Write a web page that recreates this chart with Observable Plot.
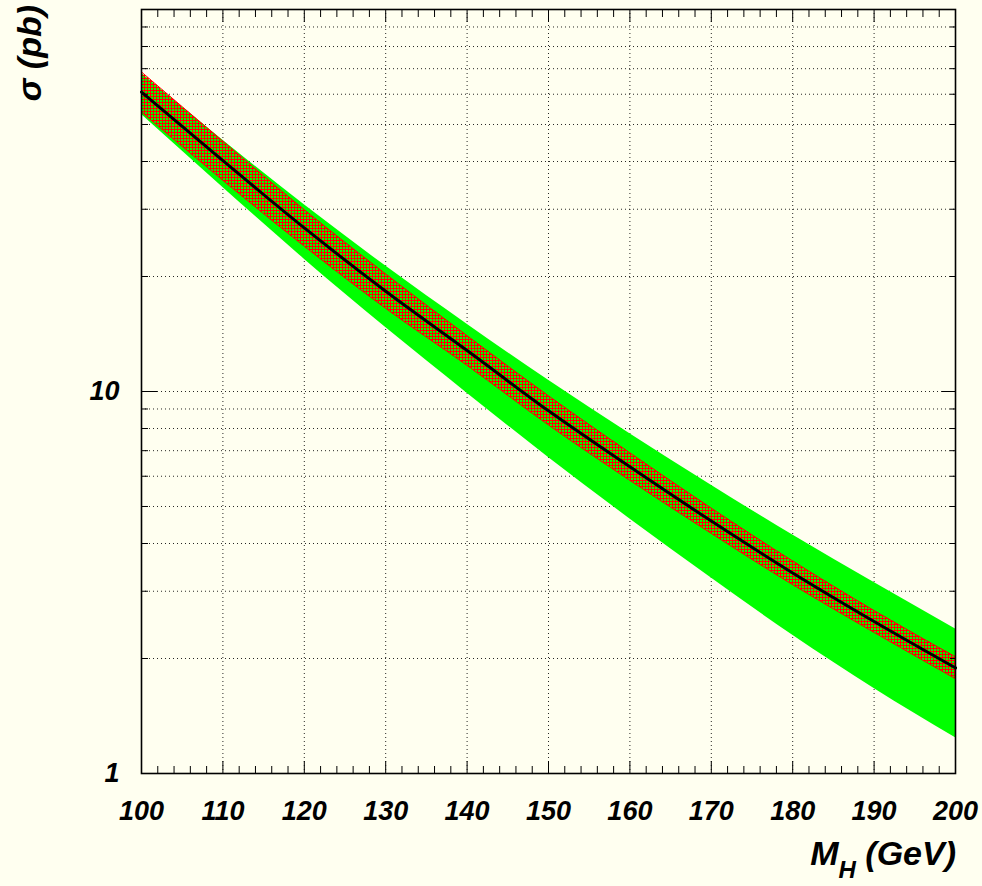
<!DOCTYPE html>
<html>
<head>
<meta charset="utf-8">
<script src="https://cdn.jsdelivr.net/npm/d3@7"></script>
<script src="https://cdn.jsdelivr.net/npm/@observablehq/plot@0.6"></script>
<style>
  html, body { margin: 0; padding: 0; background: #fffff0; }
  #chart svg { display: block; }
</style>
</head>
<body>
<div id="chart"></div>
<script>
// Higgs mass points (GeV) and cross sections (pb)
const mass    = [100, 110, 120, 130, 140, 150, 160, 170, 180, 190, 200];
const central = [60.8, 40.2, 26.8, 18.3, 12.8, 8.90, 6.35, 4.58, 3.35, 2.50, 1.89];
// outer (green) uncertainty band
const greenHi = [68.1, 45.5, 30.8, 21.3, 15.0, 10.7, 7.75, 5.68, 4.21, 3.16, 2.39];
const greenLo = [53.1, 34.2, 22.2, 14.7, 9.90, 6.72, 4.64, 3.25, 2.30, 1.67, 1.24];
// inner (red, hatched) uncertainty band
const redHi   = [68.6, 45.2, 29.9, 20.3, 14.0, 9.74, 6.91, 4.95, 3.60, 2.67, 2.02];
const redLo   = [53.9, 35.7, 24.0, 16.5, 11.7, 8.17, 5.85, 4.25, 3.12, 2.34, 1.77];

// axis ticks
const xMajor = [100, 110, 120, 130, 140, 150, 160, 170, 180, 190, 200];
const xMinor = d3.range(102, 200, 2).filter(v => v % 10 !== 0);
const yMajor = [1, 10, 100];
const yMinor = [2, 3, 4, 5, 6, 7, 8, 9, 20, 30, 40, 50, 60, 70, 80, 90];
const yLabeled = [1, 10];

const rows = mass.map((m, i) => ({
  m, c: central[i], gHi: greenHi[i], gLo: greenLo[i], rHi: redHi[i], rLo: redLo[i]
}));

const font = "'Liberation Sans', Arial, Helvetica, sans-serif";
const W = 982, H = 886;
const mL = 141, mR = 27, mT = 9, mB = 113;
const curve = "monotone-x";
const gridStyle = {stroke: "#000", strokeOpacity: 0.85, strokeWidth: 1, strokeDasharray: "1,3"};
const noText = () => "";

const plot = Plot.plot({
  width: W,
  height: H,
  marginLeft: mL,
  marginRight: mR,
  marginTop: mT,
  marginBottom: mB,
  style: {
    background: "#fffff0",
    fontFamily: font,
    fontSize: "27px",
    fontWeight: "bold",
    fontStyle: "italic",
    color: "black",
    overflow: "visible"
  },
  x: {domain: [100, 200], label: null},
  y: {type: "log", domain: [1, 100], label: null},
  marks: [
    // dotted grid
    Plot.gridX(xMajor.slice(1, -1), gridStyle),
    Plot.gridY(yMinor.concat([10]), gridStyle),

    // bands and central value
    Plot.areaY(rows, {x: "m", y1: "gLo", y2: "gHi", fill: "#00ff00", curve}),
    Plot.areaY(rows, {x: "m", y1: "rLo", y2: "rHi", fill: "url(#redChecker)", curve}),
    Plot.line(rows, {x: "m", y: "rHi", stroke: "#ff0000", strokeWidth: 1, curve}),
    Plot.line(rows, {x: "m", y: "rLo", stroke: "#ff0000", strokeWidth: 1, curve}),
    Plot.line(rows, {x: "m", y: "c", stroke: "black", strokeWidth: 3, curve}),

    // inward ticks on all four sides
    Plot.axisX(xMajor, {anchor: "bottom", tickSize: -12, tickFormat: noText, label: null}),
    Plot.axisX(xMinor, {anchor: "bottom", tickSize: -7, tickFormat: noText, label: null}),
    Plot.axisX(xMajor, {anchor: "top", tickSize: -12, tickFormat: noText, label: null}),
    Plot.axisX(xMinor, {anchor: "top", tickSize: -7, tickFormat: noText, label: null}),
    Plot.axisY(yMajor, {anchor: "left", tickSize: -16, tickFormat: noText, label: null}),
    Plot.axisY(yMinor, {anchor: "left", tickSize: -7, tickFormat: noText, label: null}),
    Plot.axisY(yMajor, {anchor: "right", tickSize: -14, tickFormat: noText, label: null}),
    Plot.axisY(yMinor, {anchor: "right", tickSize: -6, tickFormat: noText, label: null}),

    // tick labels
    Plot.axisX(xMajor, {anchor: "bottom", tickSize: 0, tickPadding: 27, tickFormat: d => String(d), label: null}),
    Plot.axisY(yLabeled, {anchor: "left", tickSize: 0, tickPadding: 22, tickFormat: d => String(d), label: null}),

    Plot.frame({stroke: "black", strokeWidth: 1.6})
  ]
});

const svg = d3.select(plot);

// red checkered fill for the inner band: red mesh with open cells
const pat = svg.insert("defs", ":first-child")
  .append("pattern")
  .attr("id", "redChecker")
  .attr("patternUnits", "userSpaceOnUse")
  .attr("width", 3)
  .attr("height", 3);
pat.append("rect").attr("x", 0).attr("y", 0).attr("width", 3).attr("height", 1).attr("fill", "#ff0000");
pat.append("rect").attr("x", 0).attr("y", 1).attr("width", 1).attr("height", 2).attr("fill", "#ff0000");

// axis titles
const xTitle = svg.append("text")
  .attr("x", W - mR + 1)
  .attr("y", 865)
  .attr("text-anchor", "end")
  .attr("font-family", font)
  .attr("font-weight", "bold")
  .attr("font-style", "italic")
  .attr("font-size", 34)
  .attr("fill", "black");
xTitle.append("tspan").text("M");
xTitle.append("tspan").attr("font-size", 24).attr("dy", 13).text("H");
xTitle.append("tspan").attr("dy", -13).text(" (GeV)");

svg.append("text")
  .attr("transform", "translate(41,5) rotate(-90)")
  .attr("text-anchor", "end")
  .attr("font-family", font)
  .attr("font-weight", "bold")
  .attr("font-style", "italic")
  .attr("font-size", 34)
  .attr("fill", "black")
  .text("σ (pb)");

document.getElementById("chart").appendChild(plot);
</script>
</body>
</html>
